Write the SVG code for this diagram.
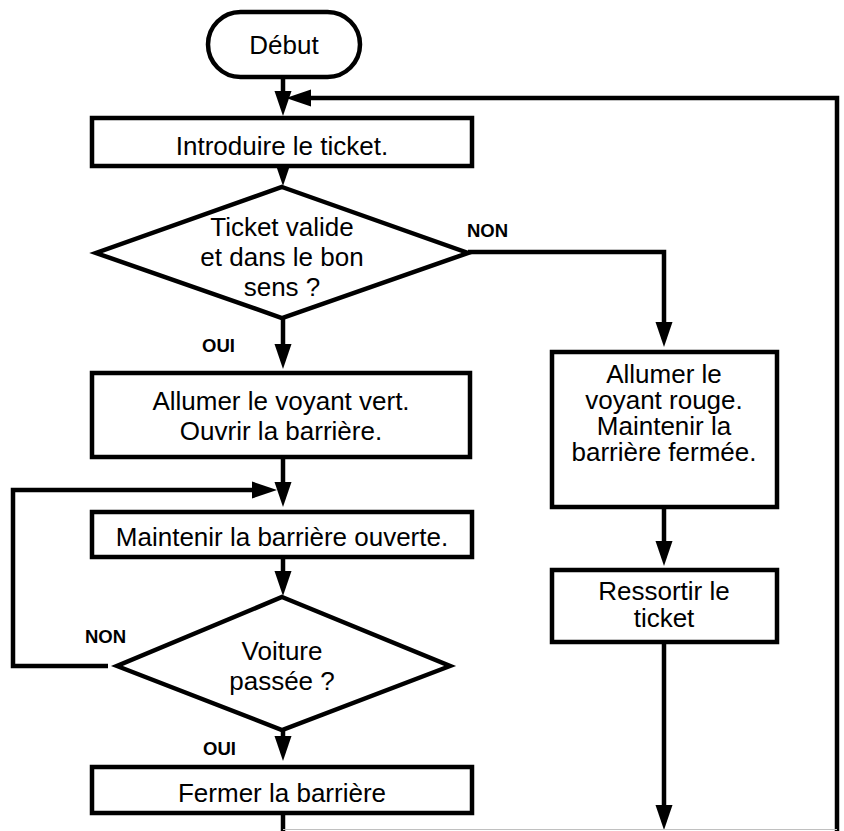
<svg xmlns="http://www.w3.org/2000/svg" width="844" height="831" viewBox="0 0 844 831">
<defs>
<style>
.shape{fill:#fff;stroke:#000;stroke-width:4.5}
.t{font-family:"Liberation Sans",Arial,sans-serif;font-size:26px;fill:#000;text-anchor:middle}
.lbl{font-family:"Liberation Sans",Arial,sans-serif;font-size:18.5px;font-weight:bold;fill:#000}
.c{fill:none;stroke:#000;stroke-width:4.5;stroke-linejoin:miter}
</style>
<marker id="ah" viewBox="0 -9 26 18" refX="1" refY="0" markerWidth="26" markerHeight="18" markerUnits="userSpaceOnUse" orient="auto">
<path d="M0,-8.5 L25,0 L0,8.5 z" fill="#000"/>
</marker>
</defs>
<rect width="844" height="831" fill="#fff"/>

<g id="connectors">
<path class="c" d="M283,79 V92" marker-end="url(#ah)"/>
<path class="c" d="M837,833 V98 H310" marker-end="url(#ah)"/>
<path class="c" d="M283,158 V162" marker-end="url(#ah)"/>
<path class="c" d="M283,318 V345" marker-end="url(#ah)"/>
<path class="c" d="M468,252 H664 V323" marker-end="url(#ah)"/>
<path class="c" d="M283,457 V483" marker-end="url(#ah)"/>
<path class="c" d="M108,666 H13 V490 H253" marker-end="url(#ah)"/>
<path class="c" d="M283,557 V572" marker-end="url(#ah)"/>
<path class="c" d="M283,730 V737" marker-end="url(#ah)"/>
<path class="c" d="M664,507 V542" marker-end="url(#ah)"/>
<path class="c" d="M664,642 V806" marker-end="url(#ah)"/>
<path class="c" d="M283,813 V833"/>
<path d="M283,829.5 H837" stroke="#c0c0c0" stroke-width="1" fill="none"/>
<text class="lbl" x="467" y="237">NON</text>
<text class="lbl" x="202" y="352">OUI</text>
<text class="lbl" x="85" y="643">NON</text>
<text class="lbl" x="203" y="755">OUI</text>
</g>

<g id="debut">
<rect class="shape" x="208" y="12" width="152" height="65" rx="32.5"/>
<text class="t" x="284" y="54">Début</text>
</g>

<g id="introduire">
<rect class="shape" x="92" y="118" width="380" height="48"/>
<text class="t" x="282" y="155">Introduire le ticket.</text>
</g>

<g id="ticket-valide">
<polygon class="shape" points="282,187 468,253 282,318 96,253"/>
<text class="t" x="282" y="236">Ticket valide</text>
<text class="t" x="282" y="266">et dans le bon</text>
<text class="t" x="282" y="296">sens ?</text>
</g>

<g id="allumer-vert">
<rect class="shape" x="92" y="373" width="378" height="84"/>
<text class="t" x="281" y="410">Allumer le voyant vert.</text>
<text class="t" x="281" y="440">Ouvrir la barrière.</text>
</g>

<g id="maintenir-ouverte">
<rect class="shape" x="92" y="512" width="380" height="45"/>
<text class="t" x="282" y="546">Maintenir la barrière ouverte.</text>
</g>

<g id="voiture-passee">
<polygon class="shape" points="282,597 450,666 282,730 117,666"/>
<text class="t" x="282" y="660">Voiture</text>
<text class="t" x="282" y="690">passée ?</text>
</g>

<g id="fermer">
<rect class="shape" x="92" y="767" width="380" height="46"/>
<text class="t" x="282" y="802">Fermer la barrière</text>
</g>

<g id="allumer-rouge">
<rect class="shape" x="552" y="352" width="225" height="155"/>
<text class="t" x="664" y="383">Allumer le</text>
<text class="t" x="664" y="409">voyant rouge.</text>
<text class="t" x="664" y="435">Maintenir la</text>
<text class="t" x="664" y="461">barrière fermée.</text>
</g>

<g id="ressortir">
<rect class="shape" x="552" y="570" width="225" height="72"/>
<text class="t" x="664" y="600">Ressortir le</text>
<text class="t" x="664" y="627">ticket</text>
</g>
</svg>
